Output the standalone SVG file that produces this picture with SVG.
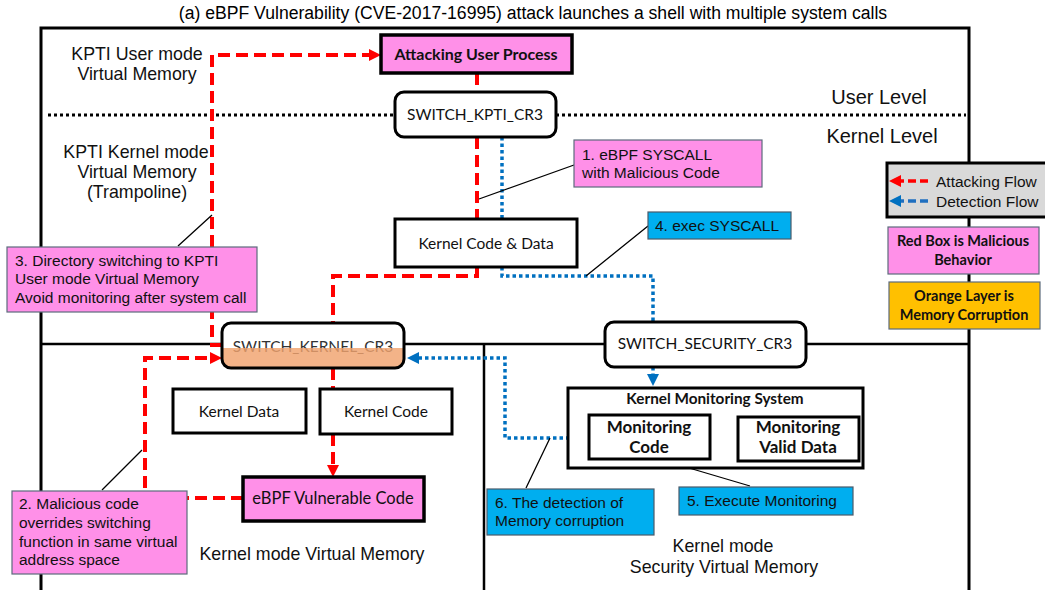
<svg xmlns="http://www.w3.org/2000/svg" width="1045" height="590" viewBox="0 0 1045 590">
  <style>
    .ttl { font-family: "Liberation Sans", Arial, sans-serif; font-size: 17.6px; fill: #000; }
    .lbl { font-family: "Liberation Sans", Arial, sans-serif; font-size: 17.8px; fill: #111; text-anchor: middle; }
    .lvl { font-family: "Liberation Sans", Arial, sans-serif; font-size: 20px; fill: #111; text-anchor: middle; }
    .note { font-family: "Liberation Sans", Arial, sans-serif; font-size: 15.5px; fill: #111; }
    .nt { font-family: Lato, "Open Sans", sans-serif; font-size: 15.5px; fill: #111; text-anchor: middle; }
    .nb { font-family: Lato, "Open Sans", sans-serif; font-size: 16px; font-weight: bold; fill: #111; text-anchor: middle; }
    .box { fill: #fff; stroke: #000; stroke-width: 3; }
    .mal { fill: #FF90E8; stroke: #000; stroke-width: 3.5; }
    .callP { fill: #FF90E8; stroke: #5d6b7c; stroke-width: 1.2; }
    .callB { fill: #00AEEF; stroke: #4a5a6a; stroke-width: 1.2; }
    .frame { fill: none; stroke: #000; stroke-width: 3; }
    .div { fill: none; stroke: #000; stroke-width: 2.5; }
    .lvline { fill: none; stroke: #000; stroke-width: 3; stroke-dasharray: 3 3; }
    .atk { fill: none; stroke: #FF0000; stroke-width: 4; stroke-dasharray: 12 6; }
    .det { fill: none; stroke: #0070C0; stroke-width: 3.5; stroke-dasharray: 3.5 3; }
    .leg-atk { fill: none; stroke: #FF0000; stroke-width: 3.5; stroke-dasharray: 8 4; }
    .leg-det { fill: none; stroke: #1F6FC0; stroke-width: 3.5; stroke-dasharray: 8 4; }
    .lead { fill: none; stroke: #000; stroke-width: 1.3; }
  </style>
  <defs>
    <marker id="hRed" viewBox="0 0 12 12" refX="1" refY="6" markerWidth="12" markerHeight="12" markerUnits="userSpaceOnUse" orient="auto">
      <path d="M0,0 L12,6 L0,12 z" fill="#FF0000"/>
    </marker>
    <marker id="hBlue" viewBox="0 0 12 12" refX="1" refY="6" markerWidth="12" markerHeight="12" markerUnits="userSpaceOnUse" orient="auto">
      <path d="M0,0 L12,6 L0,12 z" fill="#0070C0"/>
    </marker>
  </defs>

  <!-- title -->
  <text class="ttl" x="533" y="19" text-anchor="middle">(a)  eBPF Vulnerability (CVE-2017-16995) attack launches a shell with multiple system calls</text>

  <!-- memory regions -->
  <g id="regions">
    <path class="frame" d="M41,592 V28 H969 V592"/>
    <path class="div" d="M41,344 H222 M404,344 H605 M806,344 H969 M484,344 V592"/>
    <path class="lvline" d="M48,115 H395 M556,115 H966"/>
    <text class="lbl" x="137" y="60">KPTI User mode</text>
    <text class="lbl" x="137" y="80">Virtual Memory</text>
    <text class="lbl" x="136" y="158">KPTI Kernel mode</text>
    <text class="lbl" x="137" y="178">Virtual Memory</text>
    <text class="lbl" x="137" y="198">(Trampoline)</text>
    <text class="lvl" x="879" y="104">User Level</text>
    <text class="lvl" x="882" y="143">Kernel Level</text>
    <text class="lbl" x="312" y="560">Kernel mode Virtual Memory</text>
    <text class="lbl" x="723" y="552">Kernel mode</text>
    <text class="lbl" x="724" y="573">Security Virtual Memory</text>
  </g>

  <!-- connectors -->
  <g id="connectors">
    <path class="det" d="M502,137 V276 H653 V322"/>
    <path class="det" d="M653,367 V375" marker-end="url(#hBlue)"/>
    <path class="det" d="M589,438 H505 V358 H418" marker-end="url(#hBlue)"/>
    <path class="atk" d="M477,73 V92"/>
    <path class="atk" d="M477,137 V219"/>
    <path class="atk" d="M477,267 V276 H333 V323"/>
    <path class="atk" d="M222,345 H212 V55 H370" marker-end="url(#hRed)"/>
    <path class="atk" d="M333,368 V389"/>
    <path class="atk" d="M333,434 V466" marker-end="url(#hRed)"/>
    <path class="atk" d="M243,498 H145 V358 H211" marker-end="url(#hRed)"/>
    <path class="lead" d="M574,165 L479,199 M648,226 L586,276 M178,246 L212,215 M102,490 L142,450 M526,488 L550,438 M750,486 L662,460"/>
  </g>

  <!-- nodes -->
  <g id="attacking-user-process">
    <rect class="mal" x="381" y="35" width="191" height="38"/>
    <text class="nb" x="476" y="60">Attacking User Process</text>
  </g>
  <g id="switch-kpti-cr3">
    <rect class="box" x="395" y="92" width="161" height="45" rx="9"/>
    <text class="nt" x="475" y="120">SWITCH_KPTI_CR3</text>
  </g>
  <g id="kernel-code-data">
    <rect class="box" x="395" y="219" width="182" height="48"/>
    <text class="nt" x="486" y="249">Kernel Code &amp; Data</text>
  </g>
  <g id="switch-kernel-cr3">
    <rect x="222" y="323" width="182" height="45" rx="9" fill="#fff"/>
    <text class="nt" x="313" y="352" style="fill:#333">SWITCH_KERNEL_CR3</text>
    <path d="M222,348 H404 V359 Q404,368 395,368 H231 Q222,368 222,359 Z" fill="#F0A26E" fill-opacity="0.82"/>
    <rect x="222" y="323" width="182" height="45" rx="9" fill="none" stroke="#000" stroke-width="3"/>
  </g>
  <g id="switch-security-cr3">
    <rect class="box" x="605" y="322" width="201" height="45" rx="9"/>
    <text class="nt" x="705" y="349">SWITCH_SECURITY_CR3</text>
  </g>
  <g id="kernel-data">
    <rect class="box" x="173" y="389" width="133" height="44"/>
    <text class="nt" x="239" y="417">Kernel Data</text>
  </g>
  <g id="kernel-code">
    <rect class="box" x="320" y="389" width="132" height="45"/>
    <text class="nt" x="386" y="417">Kernel Code</text>
  </g>
  <g id="ebpf-vulnerable-code">
    <rect class="mal" x="243" y="477" width="181" height="44"/>
    <text class="nt" x="333" y="504" style="font-size:16.5px">eBPF Vulnerable Code</text>
  </g>
  <g id="kernel-monitoring-system">
    <rect class="box" x="568" y="388" width="295" height="80"/>
    <text class="nb" x="715" y="404" style="font-size:15.3px">Kernel Monitoring System</text>
  </g>
  <g id="monitoring-code">
    <rect class="box" x="589" y="415" width="121" height="44"/>
    <text class="nb" x="649" y="433" style="font-size:17px">Monitoring</text>
    <text class="nb" x="649" y="453" style="font-size:17px">Code</text>
  </g>
  <g id="monitoring-valid-data">
    <rect class="box" x="738" y="417" width="121" height="44"/>
    <text class="nb" x="798" y="433" style="font-size:17px">Monitoring</text>
    <text class="nb" x="798" y="453" style="font-size:17px">Valid Data</text>
  </g>

  <!-- step callouts -->
  <g id="step-1">
    <rect class="callP" x="574" y="140" width="188" height="47"/>
    <text class="note" x="582" y="160">1. eBPF SYSCALL</text>
    <text class="note" x="582" y="178">with Malicious Code</text>
  </g>
  <g id="step-2">
    <rect class="callP" x="12" y="491" width="175" height="83"/>
    <text class="note" x="19" y="509">2. Malicious code</text>
    <text class="note" x="19" y="528">overrides switching</text>
    <text class="note" x="19" y="547">function in same virtual</text>
    <text class="note" x="19" y="565">address space</text>
  </g>
  <g id="step-3">
    <rect class="callP" x="7" y="247" width="250" height="65"/>
    <text class="note" x="15" y="266">3. Directory switching to KPTI</text>
    <text class="note" x="15" y="284">User mode Virtual Memory</text>
    <text class="note" x="15" y="303">Avoid monitoring after system call</text>
  </g>
  <g id="step-4">
    <rect class="callB" x="648" y="212" width="143" height="27"/>
    <text class="note" x="655" y="231">4. exec SYSCALL</text>
  </g>
  <g id="step-5">
    <rect class="callB" x="679" y="487" width="174" height="28"/>
    <text class="note" x="687" y="506">5. Execute Monitoring</text>
  </g>
  <g id="step-6">
    <rect class="callB" x="487" y="489" width="167" height="46"/>
    <text class="note" x="495" y="508">6. The detection of</text>
    <text class="note" x="495" y="526">Memory corruption</text>
  </g>

  <!-- legend -->
  <g id="legend-flows">
    <rect x="887" y="163" width="170" height="54" fill="#D9D9D9" stroke="#000" stroke-width="3"/>
    <path class="leg-atk" d="M928,181 H900" marker-end="url(#hRed)"/>
    <path class="leg-det" d="M928,201 H900" marker-end="url(#hBlue)"/>
    <text class="note" x="936" y="187">Attacking Flow</text>
    <text class="note" x="936" y="207">Detection Flow</text>
  </g>
  <g id="legend-malicious">
    <rect class="callP" x="888" y="227" width="151" height="47"/>
    <text class="nb" x="963" y="246" style="font-size:14.5px">Red Box is Malicious</text>
    <text class="nb" x="963" y="265" style="font-size:14.5px">Behavior</text>
  </g>
  <g id="legend-corruption">
    <rect x="889" y="282" width="151" height="47" fill="#FFC000" stroke="#5d6b7c" stroke-width="1.2"/>
    <text class="nb" x="964" y="301" style="font-size:14.5px">Orange Layer is</text>
    <text class="nb" x="964" y="320" style="font-size:14.5px">Memory Corruption</text>
  </g>
</svg>
